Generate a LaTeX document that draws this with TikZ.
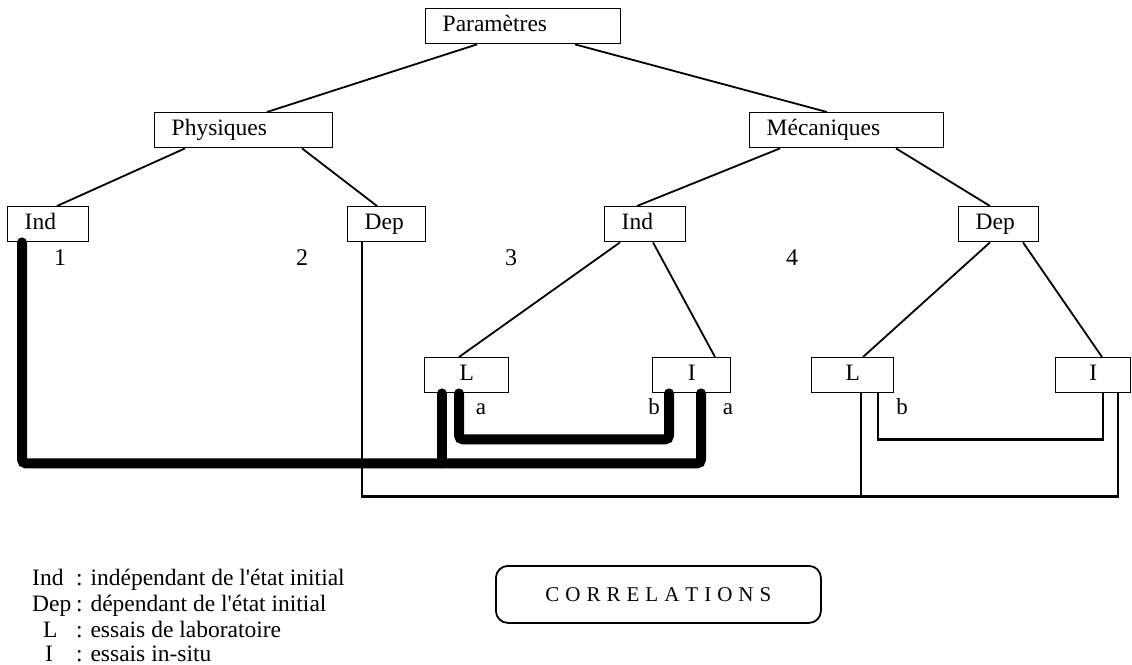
\documentclass[tikz,border=0pt]{standalone}
\usepackage{fontspec}
\setmainfont{Liberation Serif}[Ligatures=TeXOff]
\begin{document}
\begin{tikzpicture}[x=1pt,y=-1pt,
  bx/.style={draw, line width=1.4pt, fill=white, anchor=north west, minimum height=35pt,
    inner xsep=17pt, inner ysep=0pt, align=left, text height=16pt, text depth=5pt,
    font=\fontsize{23.5}{27}\selectfont},
  cbx/.style={bx, inner xsep=4pt, align=center},
  tree/.style={line width=1.8pt},
  heavy/.style={line width=10pt, line cap=round, rounded corners=4pt},
  light/.style={line width=2.6pt},
  num/.style={font=\fontsize{24}{28}\selectfont},
  ab/.style={font=\fontsize{23}{27}\selectfont},
  leg/.style={anchor=base west, inner sep=0pt, font=\fontsize{23.5}{27}\selectfont},
]
\useasboundingbox (0,0) rectangle (1132,664);

% boxes
\node[bx, text width=161pt] (par) at (425,8) {Paramètres};
\node[bx, text width=144pt] (phy) at (154,112) {Physiques};
\node[bx, text width=160pt] (mec) at (749,112) {Mécaniques};
\node[bx, text width=47pt] (ind1) at (7,206) {Ind};
\node[bx, text width=44pt] (dep1) at (347,206) {Dep};
\node[bx, text width=47pt] (ind2) at (604,206) {Ind};
\node[bx, text width=46pt] (dep2) at (958,206) {Dep};
\node[cbx, text width=76pt] (L3) at (424,357) {L};
\node[cbx, text width=70pt] (I3) at (652,357) {I};
\node[cbx, text width=74pt] (L4) at (811,357) {L};
\node[cbx, text width=67pt] (I4) at (1055,357) {I};

% tree
\draw[tree] ([xshift=52pt]par.south west) -- ([xshift=113pt]phy.north west);
\draw[tree] ([xshift=150pt]par.south west) -- ([xshift=78pt]mec.north west);
\draw[tree] ([xshift=31pt]phy.south west) -- ([xshift=50pt]ind1.north west);
\draw[tree] ([xshift=148pt]phy.south west) -- ([xshift=30pt]dep1.north west);
\draw[tree] ([xshift=31pt]mec.south west) -- ([xshift=33pt]ind2.north west);
\draw[tree] ([xshift=147pt]mec.south west) -- ([xshift=32pt]dep2.north west);
\draw[tree] ([xshift=16pt]ind2.south west) -- ([xshift=35pt]L3.north west);
\draw[tree] ([xshift=49pt]ind2.south west) -- ([xshift=63pt]I3.north west);
\draw[tree] ([xshift=32pt]dep2.south west) -- ([xshift=52pt]L4.north west);
\draw[tree] ([xshift=65pt]dep2.south west) -- ([xshift=47pt]I4.north west);

% numbers
\node[num] (n1) at (60,258) {1};
\node[num] (n2) at (302,258) {2};
\node[num] (n3) at (511,258) {3};
\node[num] (n4) at (792,258) {4};

% thin connectors
\draw[light] ([xshift=15pt]dep1.south west) -- ++(0,254) -| ([xshift=63pt]I4.south west);
\draw[light] ([xshift=50pt]L4.south west) -- ++(0,103);
\draw[light] ([xshift=67pt]L4.south west) -- ++(0,46) -| ([xshift=48pt]I4.south west);

% thick connectors
\draw[heavy] ([xshift=15pt]ind1.south west) -- ++(0,221) -| ([xshift=49pt]I3.south west);
\draw[heavy] ([xshift=18pt]L3.south west) -- ++(0,70);
\draw[heavy] ([xshift=35pt]L3.south west) -- ++(0,46) -| ([xshift=17pt]I3.south west);

% a / b labels
\node[ab] (la1) at (481,409) {a};
\node[ab] (lb1) at (654,407) {b};
\node[ab] (la2) at (728,409) {a};
\node[ab] (lb2) at (902,407) {b};

% legend
\node[leg] (k1) at (32,585) {Ind};
\node[leg] (t1) at (76,585) {: indépendant de l'état initial};
\node[leg] (k2) at (32,611) {Dep};
\node[leg] (t2) at (76,611) {: dépendant de l'état initial};
\node[leg] (k3) at (43,637) {L};
\node[leg] (t3) at (76,637) {: essais de laboratoire};
\node[leg] (k4) at (45,661) {I};
\node[leg] (t4) at (76,661) {: essais in-situ};

% correlations
\node[draw, line width=1.8pt, rounded corners=12pt, anchor=north west, minimum width=325pt,
  minimum height=57pt, inner xsep=0pt, font=\fontsize{21}{25}\selectfont] (corr) at (495,565)
  {C\kern6pt O\kern6pt R\kern6pt R\kern6pt E\kern6pt L\kern6pt A\kern6pt T\kern6pt I\kern6pt O\kern6pt N\kern6pt S};
\end{tikzpicture}
\end{document}
